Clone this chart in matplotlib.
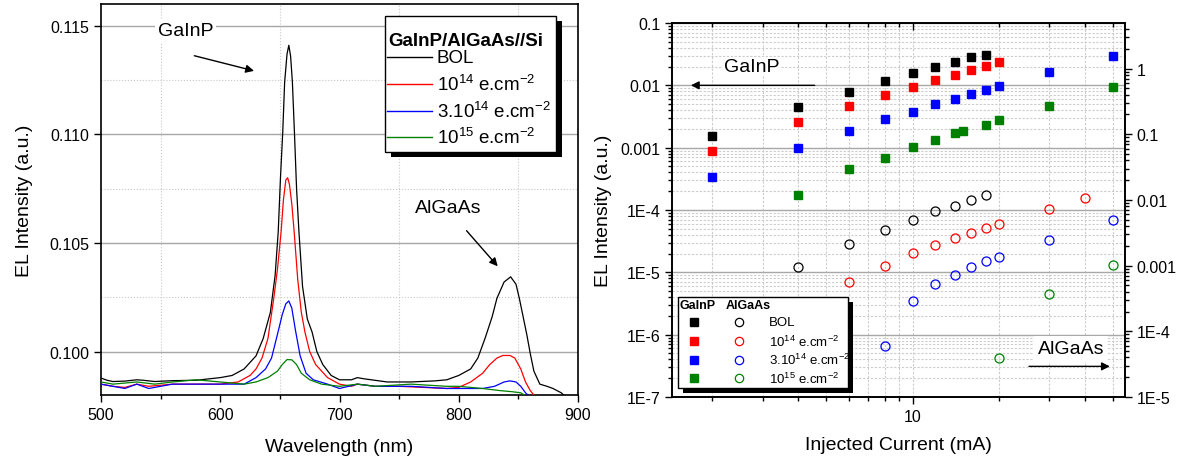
import numpy as np
import matplotlib
matplotlib.use('Agg')
import matplotlib.pyplot as plt
from matplotlib.lines import Line2D
from matplotlib.patches import Rectangle
from matplotlib.ticker import (FixedLocator, NullFormatter, FuncFormatter,
                               LogLocator, MultipleLocator)

plt.rcParams['font.family'] = ['Liberation Sans', 'DejaVu Sans']
plt.rcParams['mathtext.fontset'] = 'custom'
plt.rcParams['mathtext.rm'] = 'Liberation Sans'
plt.rcParams['mathtext.it'] = 'Liberation Sans:italic'
plt.rcParams['mathtext.bf'] = 'Liberation Sans:bold'

# ---------------- data: EL spectra ----------------
wl_bol = [500, 505, 510, 520, 530, 535, 545, 560, 580, 600, 610, 620, 630, 636, 642, 646, 648.6, 650.5,
          652.4, 654, 656, 657.5, 659, 660.5, 662.2, 664, 666, 669, 673, 677, 681, 686, 693, 700, 710,
          715, 720, 740, 760, 780, 790, 800, 810, 816, 822, 828, 832, 838, 843.5, 848, 851, 854, 857,
          860, 863, 868, 874, 879, 886, 890]
el_bol = [0.09878, 0.09868, 0.09862, 0.09864, 0.0987, 0.09868, 0.09862, 0.09866, 0.09868, 0.0988,
          0.0989, 0.0992, 0.0998, 0.1006, 0.1018, 0.1035, 0.1055, 0.1080, 0.1101, 0.1124, 0.1137,
          0.1141, 0.1136, 0.1124, 0.1101, 0.1075, 0.1055, 0.1030, 0.1015, 0.1009, 0.1000, 0.0994,
          0.0989, 0.0987, 0.0987, 0.0988, 0.09875, 0.0986, 0.0986, 0.09865, 0.0987, 0.0989, 0.0992,
          0.0997, 0.1006, 0.1016, 0.10245, 0.1032, 0.10344, 0.1031, 0.1024, 0.1016, 0.1008, 0.0999,
          0.0991, 0.0985, 0.0984, 0.0983, 0.0981, 0.0979]

wl_e14 = [500, 510, 520, 530, 540, 560, 580, 600, 615, 625, 630, 635, 640, 645, 648, 651, 653, 655,
          656.5, 658, 660, 662, 665, 668, 671, 675, 680, 685, 690, 700, 710, 715, 730, 750, 770, 790,
          800, 810, 815, 820, 826, 832, 837, 843, 847, 852, 856, 860, 863]
el_e14 = [0.0985, 0.0984, 0.09835, 0.0985, 0.0984, 0.0985, 0.0985, 0.0985, 0.0986, 0.0989, 0.0992,
          0.0997, 0.1006, 0.1025, 0.1038, 0.1055, 0.1070, 0.1079, 0.1080, 0.1077, 0.1068, 0.1055,
          0.1033, 0.1018, 0.1009, 0.1000, 0.0994, 0.0991, 0.0988, 0.0985, 0.0984, 0.0985, 0.0984,
          0.0984, 0.09835, 0.0983, 0.09835, 0.0986, 0.0988, 0.0990, 0.0994, 0.0997, 0.09982, 0.09982,
          0.0997, 0.0992, 0.0986, 0.0982, 0.0980]

wl_3e14 = [500, 510, 520, 530, 540, 560, 580, 600, 620, 630, 638, 643, 648, 652, 655, 657.5, 660,
           663, 667, 672, 678, 690, 700, 715, 730, 760, 790, 800, 820, 830, 838, 843, 848, 852, 856, 858]
el_3e14 = [0.0985, 0.0984, 0.0983, 0.0985, 0.0983, 0.0985, 0.0985, 0.0985, 0.0985, 0.0988, 0.0992,
           0.0997, 0.1008, 0.1017, 0.1022, 0.10233, 0.1020, 0.1010, 0.0998, 0.0990, 0.0987, 0.0985,
           0.0983, 0.0985, 0.0984, 0.0984, 0.0983, 0.0983, 0.0983, 0.0984, 0.0986, 0.09865, 0.0986,
           0.0984, 0.0981, 0.0980]

wl_e15 = [500, 510, 530, 545, 560, 580, 600, 620, 630, 640, 648, 652, 656, 660, 664, 668, 675, 685,
          700, 715, 730, 760, 790, 800, 820, 835, 845, 852, 855]
el_e15 = [0.0986, 0.0985, 0.0986, 0.0985, 0.0986, 0.0987, 0.0986, 0.0985, 0.0986, 0.0988, 0.0991,
          0.0994, 0.09963, 0.09962, 0.0994, 0.0990, 0.0987, 0.0985, 0.0984, 0.0985, 0.0984, 0.0985,
          0.0984, 0.0984, 0.0983, 0.0982, 0.09815, 0.0981, 0.0980]

# ---------------- data: EL intensity vs current ----------------
# GaInP (left axis, filled squares)
I_bol_sq = [2, 4, 6, 8, 10, 12, 14, 16, 18]
gainp_bol = [1.55e-3, 4.44e-3, 7.74e-3, 0.0118, 0.0155, 0.020, 0.0241, 0.028, 0.0302]
I_e14_sq = [2, 4, 6, 8, 10, 12, 14, 16, 18, 20]
gainp_e14 = [8.7e-4, 2.6e-3, 4.72e-3, 7.1e-3, 9.5e-3, 0.0124, 0.0149, 0.0177, 0.0206, 0.0236]
I_3e14_sq = [2, 4, 6, 8, 10, 12, 14, 16, 18, 20, 30, 50]
gainp_3e14 = [3.36e-4, 1.0e-3, 1.87e-3, 2.85e-3, 3.78e-3, 4.97e-3, 6.05e-3, 7.2e-3, 8.45e-3,
              9.67e-3, 0.0164, 0.0294]
I_e15_sq = [4, 6, 8, 10, 12, 14, 15, 18, 20, 30, 50]
gainp_e15 = [1.72e-4, 4.62e-4, 6.87e-4, 1.03e-3, 1.34e-3, 1.69e-3, 1.85e-3, 2.31e-3, 2.78e-3,
             4.72e-3, 9.33e-3]

# AlGaAs (right axis, open circles)
I_bol_c = [4, 6, 8, 10, 12, 14, 16, 18]
algaas_bol = [9.4e-4, 2.13e-3, 3.45e-3, 4.98e-3, 6.68e-3, 8.17e-3, 0.0101, 0.0119]
I_e14_c = [6, 8, 10, 12, 14, 16, 18, 20, 30, 40]
algaas_e14 = [5.67e-4, 9.86e-4, 1.53e-3, 2.08e-3, 2.64e-3, 3.14e-3, 3.75e-3, 4.32e-3, 7.26e-3, 0.0107]
I_3e14_c = [8, 10, 12, 14, 16, 18, 20, 30, 50]
algaas_3e14 = [6.0e-5, 2.93e-4, 5.16e-4, 7.28e-4, 9.53e-4, 1.19e-3, 1.33e-3, 2.45e-3, 4.92e-3]
I_e15_c = [20, 30, 50]
algaas_e15 = [3.98e-5, 3.76e-4, 1.03e-3]

labels = ['BOL', r'10$^{14}$ e.cm$^{-2}$', r'3.10$^{14}$ e.cm$^{-2}$', r'10$^{15}$ e.cm$^{-2}$']
colors = ['black', '#ff0000', '#0000ff', '#008000']

# ---------------- figure ----------------
W, H = 1182, 464
fig = plt.figure(figsize=(W / 100, H / 100), dpi=100)


def fx(px):
    return px / W


def fy(py):
    return 1 - py / H


def prect(x0, y0, x1, y1, **kw):
    r = Rectangle((fx(x0), fy(y1)), (x1 - x0) / W, (y1 - y0) / H, transform=fig.transFigure, **kw)
    fig.add_artist(r)


# ======== Left panel ========
ax1 = fig.add_axes([fx(101), fy(396), (578 - 101) / W, (396 - 5) / H])
spectra = [(wl_bol, el_bol), (wl_e14, el_e14), (wl_3e14, el_3e14), (wl_e15, el_e15)]
for (wl, el), c in zip(spectra, colors):
    ax1.plot(wl, el, color=c, lw=0.9, zorder=3)
ax1.set_xlim(500, 900)
ax1.set_ylim(0.098, 0.116)
ax1.xaxis.set_major_locator(MultipleLocator(100))
ax1.xaxis.set_minor_locator(MultipleLocator(50))
ax1.yaxis.set_major_locator(FixedLocator([0.100, 0.105, 0.110, 0.115]))
ax1.yaxis.set_minor_locator(FixedLocator([0.1025, 0.1075, 0.1125]))
ax1.yaxis.set_major_formatter(FuncFormatter(lambda v, p: '%.3f' % v))
ax1.set_axisbelow(True)
ax1.yaxis.grid(True, which='major', color='#a8a8a8', lw=1.0, ls='-')
ax1.yaxis.grid(True, which='minor', color='#c8c8c8', lw=0.8, ls=':')
ax1.xaxis.grid(True, which='minor', color='#c8c8c8', lw=0.8, ls=':')
ax1.tick_params(which='major', direction='out', length=5, width=1, labelsize=11.5)
ax1.tick_params(which='minor', direction='out', length=3, width=1)
ax1.tick_params(axis='y', which='minor', length=0)
for s in ax1.spines.values():
    s.set_linewidth(1.2)
ax1.set_xlabel('Wavelength (nm)', fontsize=14, labelpad=12)
ax1.set_ylabel('EL Intensity (a.u.)', fontsize=14, labelpad=12)

ax1.text(571, 0.11477, 'GaInP', ha='center', va='center', fontsize=14, zorder=4,
         bbox=dict(facecolor='white', edgecolor='none', pad=2))
ax1.annotate('', xy=(630.6, 0.11289), xytext=(576, 0.11365),
             arrowprops=dict(arrowstyle='-|>', color='black', lw=1, mutation_scale=12))
ax1.text(791, 0.10661, 'AlGaAs', ha='center', va='center', fontsize=14, zorder=4)
ax1.annotate('', xy=(834.2, 0.10383), xytext=(805, 0.10566),
             arrowprops=dict(arrowstyle='-|>', color='black', lw=1, mutation_scale=12))

# left legend (drawn manually)
prect(390.7, 21.7, 561.7, 158, facecolor='black', edgecolor='none', zorder=5)
prect(384.7, 16.7, 555.7, 153, facecolor='white', edgecolor='black', lw=1, zorder=6)
fig.text(fx(388), fy(41.7), 'GaInP/AlGaAs//Si', fontsize=13.5, fontweight='bold',
         ha='left', va='center', zorder=7)
rows1 = [58.3, 85, 111.7, 137.7]
for yy, c, lab in zip(rows1, colors, labels):
    fig.add_artist(Line2D([fx(387), fx(431.7)], [fy(yy), fy(yy)], transform=fig.transFigure,
                          color=c, lw=1, zorder=7))
    fig.text(fx(437), fy(yy), lab, fontsize=13.5, ha='left', va='center', zorder=7)

# ======== Right panel ========
ax2 = fig.add_axes([fx(672), fy(398), (1125 - 672) / W, (398 - 24) / H])
ax2.set_xscale('log')
ax2.set_yscale('log')
ax2.set_xlim(1.45, 55)
ax2.set_ylim(1e-7, 0.1)
ax3 = ax2.twinx()
ax3.set_yscale('log')
ax3.set_ylim(1e-5, 10 ** 0.693)

sq_sets = [(I_bol_sq, gainp_bol), (I_e14_sq, gainp_e14), (I_3e14_sq, gainp_3e14), (I_e15_sq, gainp_e15)]
c_sets = [(I_bol_c, algaas_bol), (I_e14_c, algaas_e14), (I_3e14_c, algaas_3e14), (I_e15_c, algaas_e15)]
for (xx, yy), c in zip(sq_sets, colors):
    ax2.plot(xx, yy, 's', color=c, ms=6, mec=c, zorder=3)
for (xx, yy), c in zip(c_sets, colors):
    ax3.plot(xx, yy, 'o', mfc='none', mec=c, ms=6.5, mew=0.9, zorder=3)

exp_lab = {-1: '0.1', -2: '0.01', -3: '0.001', 0: '1'}


def logfmt(v, p):
    e = int(round(np.log10(v)))
    return exp_lab.get(e, '1E%d' % e)


for a in (ax2, ax3):
    a.yaxis.set_major_locator(LogLocator(base=10, numticks=20))
    a.yaxis.set_minor_locator(LogLocator(base=10, subs=np.arange(2, 10), numticks=20))
    a.yaxis.set_major_formatter(FuncFormatter(logfmt))
    a.yaxis.set_minor_formatter(NullFormatter())
ax2.xaxis.set_major_locator(FixedLocator([10]))
ax2.xaxis.set_major_formatter(FuncFormatter(lambda v, p: '%g' % v))
ax2.xaxis.set_minor_locator(FixedLocator([2, 3, 4, 5, 6, 7, 8, 9, 20, 30, 40, 50]))
ax2.xaxis.set_minor_formatter(NullFormatter())

ax2.set_axisbelow(True)
ax2.yaxis.grid(True, which='major', color='#a8a8a8', lw=1.0, ls='-')
ax2.yaxis.grid(True, which='minor', color='#cccccc', lw=0.8, ls=(0, (2, 1.5)))
ax2.xaxis.grid(True, which='both', color='#cccccc', lw=0.8, ls=(0, (2, 1.5)))
ax2.tick_params(which='major', direction='out', length=5, width=1, labelsize=11.5)
ax2.tick_params(which='minor', direction='out', length=3, width=1)
ax3.tick_params(which='major', direction='out', length=5, width=1, labelsize=11.5)
ax3.tick_params(which='minor', direction='out', length=3, width=1)
ax3.xaxis.set_visible(True)
ax3.tick_params(axis='x', which='both', bottom=False, top=True, labelbottom=False,
                labeltop=False, direction='in')
ax3.tick_params(axis='x', which='major', length=5, width=1)
ax3.tick_params(axis='x', which='minor', length=3, width=1)
for a in (ax2, ax3):
    for s in a.spines.values():
        s.set_linewidth(1.2)
ax2.set_xlabel('Injected Current (mA)', fontsize=14, labelpad=9)
ax2.set_ylabel('EL Intensity (a.u.)', fontsize=14, labelpad=6)

ax2.text(2.75, 0.02, 'GaInP', ha='center', va='center', fontsize=14, zorder=4,
         bbox=dict(facecolor='white', edgecolor='none', pad=1))
ax2.annotate('', xy=(1.65, 0.01), xytext=(4.66, 0.01),
             arrowprops=dict(arrowstyle='-|>', color='black', lw=1, mutation_scale=12))
ax2.text(35.7, 5.9e-7, 'AlGaAs', ha='center', va='center', fontsize=14, zorder=4,
         bbox=dict(facecolor='white', edgecolor='none', pad=3))
ax2.annotate('', xy=(49.8, 3.1e-7), xytext=(24.9, 3.1e-7),
             arrowprops=dict(arrowstyle='-|>', color='black', lw=1, mutation_scale=12))

# right legend (drawn manually)
prect(682.8, 302.8, 852.8, 393.5, facecolor='black', edgecolor='none', zorder=5)
prect(678.3, 298.3, 848.3, 389, facecolor='white', edgecolor='black', lw=1, zorder=6)
fig.text(fx(680), fy(306), 'GaInP', fontsize=9, fontweight='bold', ha='left', va='center', zorder=7)
fig.text(fx(726), fy(306), 'AlGaAs', fontsize=9, fontweight='bold', ha='left', va='center', zorder=7)
rows2 = [323.3, 342.3, 360.7, 379.3]
for yy, c, lab in zip(rows2, colors, labels):
    fig.add_artist(Line2D([fx(694.3)], [fy(yy)], transform=fig.transFigure, marker='s', ms=5.5,
                          color=c, mec=c, ls='none', zorder=7))
    fig.add_artist(Line2D([fx(739)], [fy(yy)], transform=fig.transFigure, marker='o', ms=6,
                          mfc='none', mec=c, mew=0.9, ls='none', zorder=7))
    fig.text(fx(769), fy(yy), lab, fontsize=9.5, ha='left', va='center', zorder=7)

fig.savefig('out.png', dpi=100)
